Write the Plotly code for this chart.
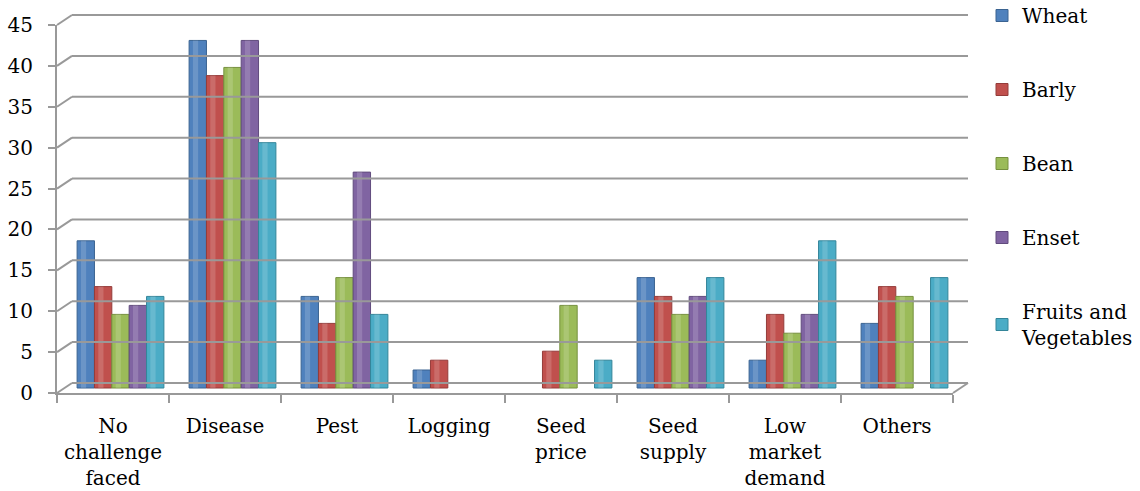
import plotly.graph_objects as go

# Categories of challenges and the share of farmers (%) per crop
categories = ["No<br>challenge<br>faced", "Disease", "Pest", "Logging",
              "Seed<br>price", "Seed<br>supply", "Low<br>market<br>demand", "Others"]
wheat = [18.0, 42.5, 11.2, 2.2, 0, 13.5, 3.4, 7.9]
barly = [12.4, 38.2, 7.9, 3.4, 4.5, 11.2, 9.0, 12.4]
bean = [9.0, 39.2, 13.5, 0, 10.1, 9.0, 6.7, 11.2]
enset = [10.1, 42.5, 26.4, 0, 0, 11.2, 9.0, 0]
fruits = [11.2, 30.0, 9.0, 0, 3.4, 13.5, 18.0, 13.5]
y_ticks = [0, 5, 10, 15, 20, 25, 30, 35, 40, 45]

series = [
    ("Wheat", wheat, "#4F81BD", "#3B6391"),
    ("Barly", barly, "#C0504D", "#943C3A"),
    ("Bean", bean, "#9BBB59", "#76903F"),
    ("Enset", enset, "#8064A2", "#614B7D"),
    ("Fruits and<br>Vegetables", fruits, "#4BACC6", "#348599"),
]

# Page geometry (pixels)
W, H = 1140, 491
L, R, T, B = 57, 187, 25, 98
PW, PH = W - L - R, H - T - B
YMAX = 45
SCALE = PH / YMAX            # pixels per unit
DX, DY = 15, 10              # depth of the pseudo-3D box
CAT_N = len(categories)
CAT_W = PW / CAT_N

GRID = "#999999"
FONT = "DejaVu Serif"

# the bars sit halfway into the box depth
bar_shift = (DX / 2) / CAT_W
bar_lift = (DY / 2) / SCALE

bar_w = 0.155
group_w = bar_w * len(series)

fig = go.Figure()
for j, (name, vals, col, edge) in enumerate(series):
    fig.add_trace(go.Bar(
        x=list(range(CAT_N)), y=vals, name=name,
        offset=-group_w / 2 + j * bar_w, width=bar_w,
        marker=dict(color=col,
                    line=dict(color=edge, width=[1 if v > 0 else 0 for v in vals])),
        legendgroup=name,
        xaxis="x", yaxis="y",
    ))
    # soft highlight along each column
    fig.add_trace(go.Bar(
        x=list(range(CAT_N)), y=vals, showlegend=False, hoverinfo="skip",
        offset=-group_w / 2 + j * bar_w + bar_w * 0.22, width=bar_w * 0.3,
        marker=dict(color="rgba(255,255,255,0.16)", line=dict(width=0)),
        xaxis="x", yaxis="y",
    ))

# invisible trace so the front axes form their own subplot
fig.add_trace(go.Scatter(x=[None], y=[None], xaxis="x2", yaxis="y2",
                         showlegend=False, hoverinfo="skip"))


def px_to_paper(px, py):
    return (px - L) / PW, (H - B - py) / PH


shapes = []


def seg(p0, p1, width=2):
    x0, y0 = px_to_paper(*p0)
    x1, y1 = px_to_paper(*p1)
    shapes.append(dict(type="line", xref="paper", yref="paper",
                       x0=x0, y0=y0, x1=x1, y1=y1,
                       line=dict(color=GRID, width=width)))


# back wall gridlines and left wall diagonals
for v in y_ticks:
    fy = H - B - v * SCALE
    seg((L, fy), (L + DX, fy - DY))
    seg((L + DX, fy - DY), (L + PW + DX, fy - DY))
# right edge of the floor
seg((L + PW, H - B), (L + PW + DX, H - B - DY))

fig.update_layout(
    width=W, height=H,
    margin=dict(l=L, r=R, t=T, b=B, pad=0, autoexpand=False),
    paper_bgcolor="white", plot_bgcolor="rgba(0,0,0,0)",
    barmode="overlay",
    font=dict(family=FONT, size=19, color="black"),
    shapes=shapes,
    xaxis=dict(range=[-0.5 - bar_shift, CAT_N - 0.5 - bar_shift],
               visible=False, fixedrange=True, automargin=False),
    yaxis=dict(range=[-bar_lift, YMAX - bar_lift], visible=False,
               fixedrange=True, automargin=False),
    xaxis2=dict(overlaying="x", anchor="y2", side="bottom",
                range=[-0.5, CAT_N - 0.5], automargin=False,
                tickmode="array", tickvals=list(range(CAT_N)), ticktext=categories,
                ticks="", showgrid=False, zeroline=False,
                showline=True, linecolor=GRID, linewidth=2,
                tickfont=dict(family=FONT, size=20),
                minor=dict(tickvals=[i - 0.5 for i in range(CAT_N + 1)],
                           ticks="outside", ticklen=8, tickcolor=GRID, tickwidth=2),
                ticklabelstandoff=14),
    yaxis2=dict(overlaying="y", anchor="x2", side="left",
                range=[0, YMAX], tickmode="array", tickvals=y_ticks,
                automargin=False,
                ticks="outside", ticklen=7, tickcolor=GRID, tickwidth=2,
                showline=True, linecolor=GRID, linewidth=2,
                showgrid=False, zeroline=False,
                tickfont=dict(family=FONT, size=20),
                ticklabelstandoff=11),
    legend=dict(x=(982 - L) / PW, xanchor="left",
                y=px_to_paper(0, -4)[1], yanchor="top",
                traceorder="grouped", tracegroupgap=45, maxheight=480,
                font=dict(family=FONT, size=20),
                bgcolor="rgba(0,0,0,0)", borderwidth=0),
)

fig.write_html("out.html")
